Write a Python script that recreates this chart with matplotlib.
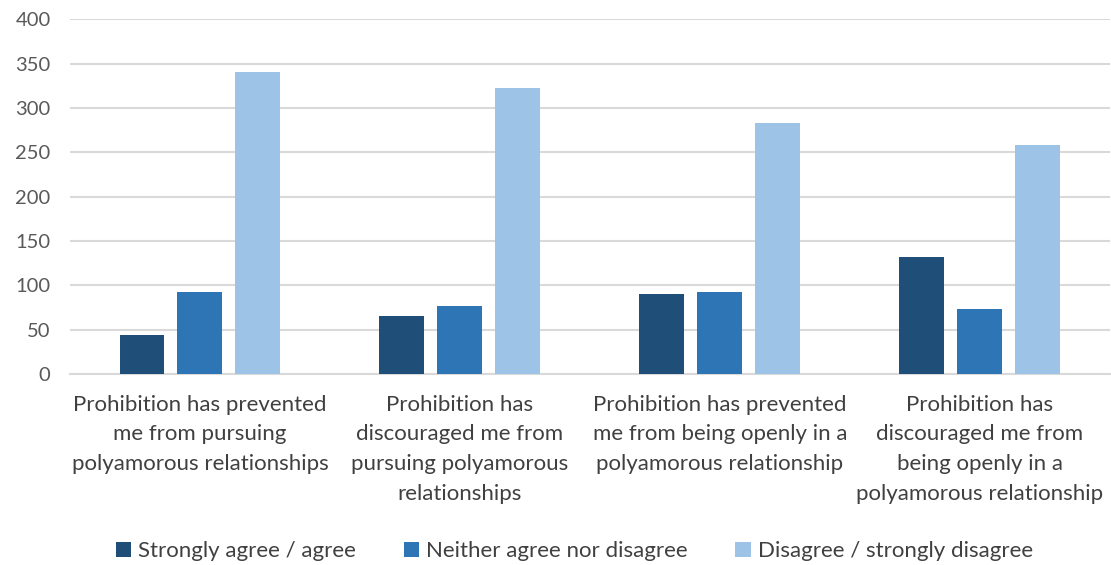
import numpy as np
import matplotlib.pyplot as plt

categories = [
    "Prohibition has prevented\nme from pursuing\npolyamorous relationships",
    "Prohibition has\ndiscouraged me from\npursuing polyamorous\nrelationships",
    "Prohibition has prevented\nme from being openly in a\npolyamorous relationship",
    "Prohibition has\ndiscouraged me from\nbeing openly in a\npolyamorous relationship",
]
series_names = ["Strongly agree / agree", "Neither agree nor disagree",
                "Disagree / strongly disagree"]
agree = [44, 65, 90, 132]
neither = [92, 77, 93, 73]
disagree = [340, 322, 283, 258]
colors = ["#1F4E79", "#2E75B6", "#9DC3E6"]

plt.rcParams['font.family'] = ['Lato', 'DejaVu Sans']

fig = plt.figure(figsize=(11.11, 5.65), dpi=100)
ax = fig.add_axes([0.063, 0.338, 0.936, 0.628])

x = np.arange(len(categories))
w = 0.173
step = 0.223
for i, (vals, name) in enumerate(zip([agree, neither, disagree], series_names)):
    ax.bar(x + (i - 1) * step, vals, width=w, color=colors[i], label=name, zorder=3)

ax.set_xlim(-0.5, len(categories) - 0.5)
ax.set_ylim(0, 400)
ax.set_yticks(range(0, 401, 50))
ax.yaxis.grid(True, color="#D9D9D9", linewidth=1.5, zorder=0)
ax.set_axisbelow(True)
for s in ["top", "right", "left"]:
    ax.spines[s].set_visible(False)
ax.spines["bottom"].set_color("#D9D9D9")
ax.spines["bottom"].set_linewidth(1.5)
ax.tick_params(axis="y", length=0, labelsize=14.5, labelcolor="#595959", pad=14)
ax.tick_params(axis="x", length=0, labelsize=16, labelcolor="#404040", pad=15)
ax.set_xticks(x)
ax.set_xticklabels(categories, linespacing=1.6)

ax.legend(loc="center", bbox_to_anchor=(0.485, -0.5), ncol=3, frameon=False,
          fontsize=16, labelcolor="#404040", handlelength=0.7, handleheight=0.7,
          handletextpad=0.3, columnspacing=2.15)

fig.savefig("out.png", dpi=100)
